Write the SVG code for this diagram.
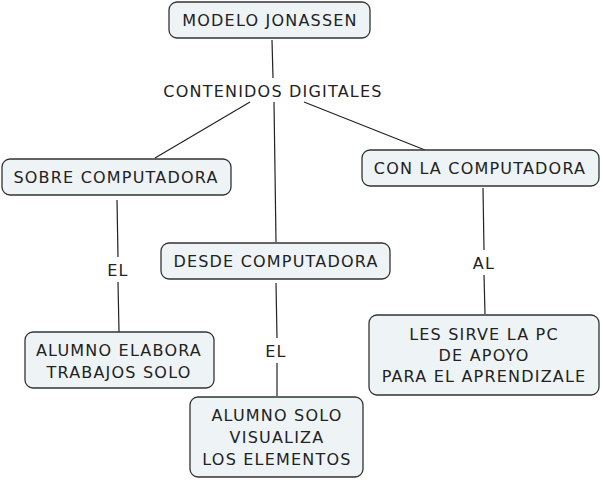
<svg xmlns="http://www.w3.org/2000/svg" width="603" height="480" viewBox="0 0 603 480">
<style>
.n rect{fill:#eef3f6;stroke:#333;stroke-width:1.3}
text{font-family:"DejaVu Sans",sans-serif;font-size:16px;letter-spacing:1.2px;fill:#222;text-anchor:middle}
.c line{stroke:#222;stroke-width:1.2}
</style>
<rect width="603" height="480" fill="#fff"/>
<g class="c">
<line x1="272" y1="40" x2="273" y2="78"/>
<line x1="250" y1="102" x2="155" y2="158"/>
<line x1="274" y1="102" x2="276" y2="242"/>
<line x1="304" y1="102" x2="425" y2="150"/>
<line x1="117" y1="200" x2="118" y2="257"/>
<line x1="118" y1="282" x2="119" y2="332"/>
<line x1="276" y1="283" x2="277" y2="338"/>
<line x1="277" y1="363" x2="277" y2="396"/>
<line x1="483" y1="188" x2="484" y2="250"/>
<line x1="484" y1="275" x2="485" y2="314"/>
</g>
<g id="n1" class="n"><rect x="169" y="2" width="201" height="36" rx="8"/><text x="270" y="26">MODELO JONASSEN</text></g>
<text x="273" y="97">CONTENIDOS DIGITALES</text>
<g id="n2" class="n"><rect x="2" y="159" width="229" height="36" rx="8"/><text x="116" y="183">SOBRE COMPUTADORA</text></g>
<g id="n3" class="n"><rect x="362" y="150" width="237" height="36" rx="8"/><text x="480" y="174">CON LA COMPUTADORA</text></g>
<g id="n4" class="n"><rect x="161" y="243" width="229" height="36" rx="8"/><text x="276" y="267">DESDE COMPUTADORA</text></g>
<text x="118" y="276">EL</text>
<text x="276" y="357">EL</text>
<text x="484" y="269">AL</text>
<g id="n5" class="n"><rect x="25" y="332" width="189" height="56" rx="8"/><text x="119" y="356">ALUMNO ELABORA</text><text x="119" y="378">TRABAJOS SOLO</text></g>
<g id="n6" class="n"><rect x="190" y="397" width="173" height="80" rx="8"/><text x="277" y="421">ALUMNO SOLO</text><text x="277" y="443">VISUALIZA</text><text x="277" y="465">LOS ELEMENTOS</text></g>
<g id="n7" class="n"><rect x="369" y="315" width="230" height="80" rx="8"/><text x="484" y="340">LES SIRVE LA PC</text><text x="484" y="361">DE APOYO</text><text x="484" y="382">PARA EL APRENDIZALE</text></g>
</svg>
